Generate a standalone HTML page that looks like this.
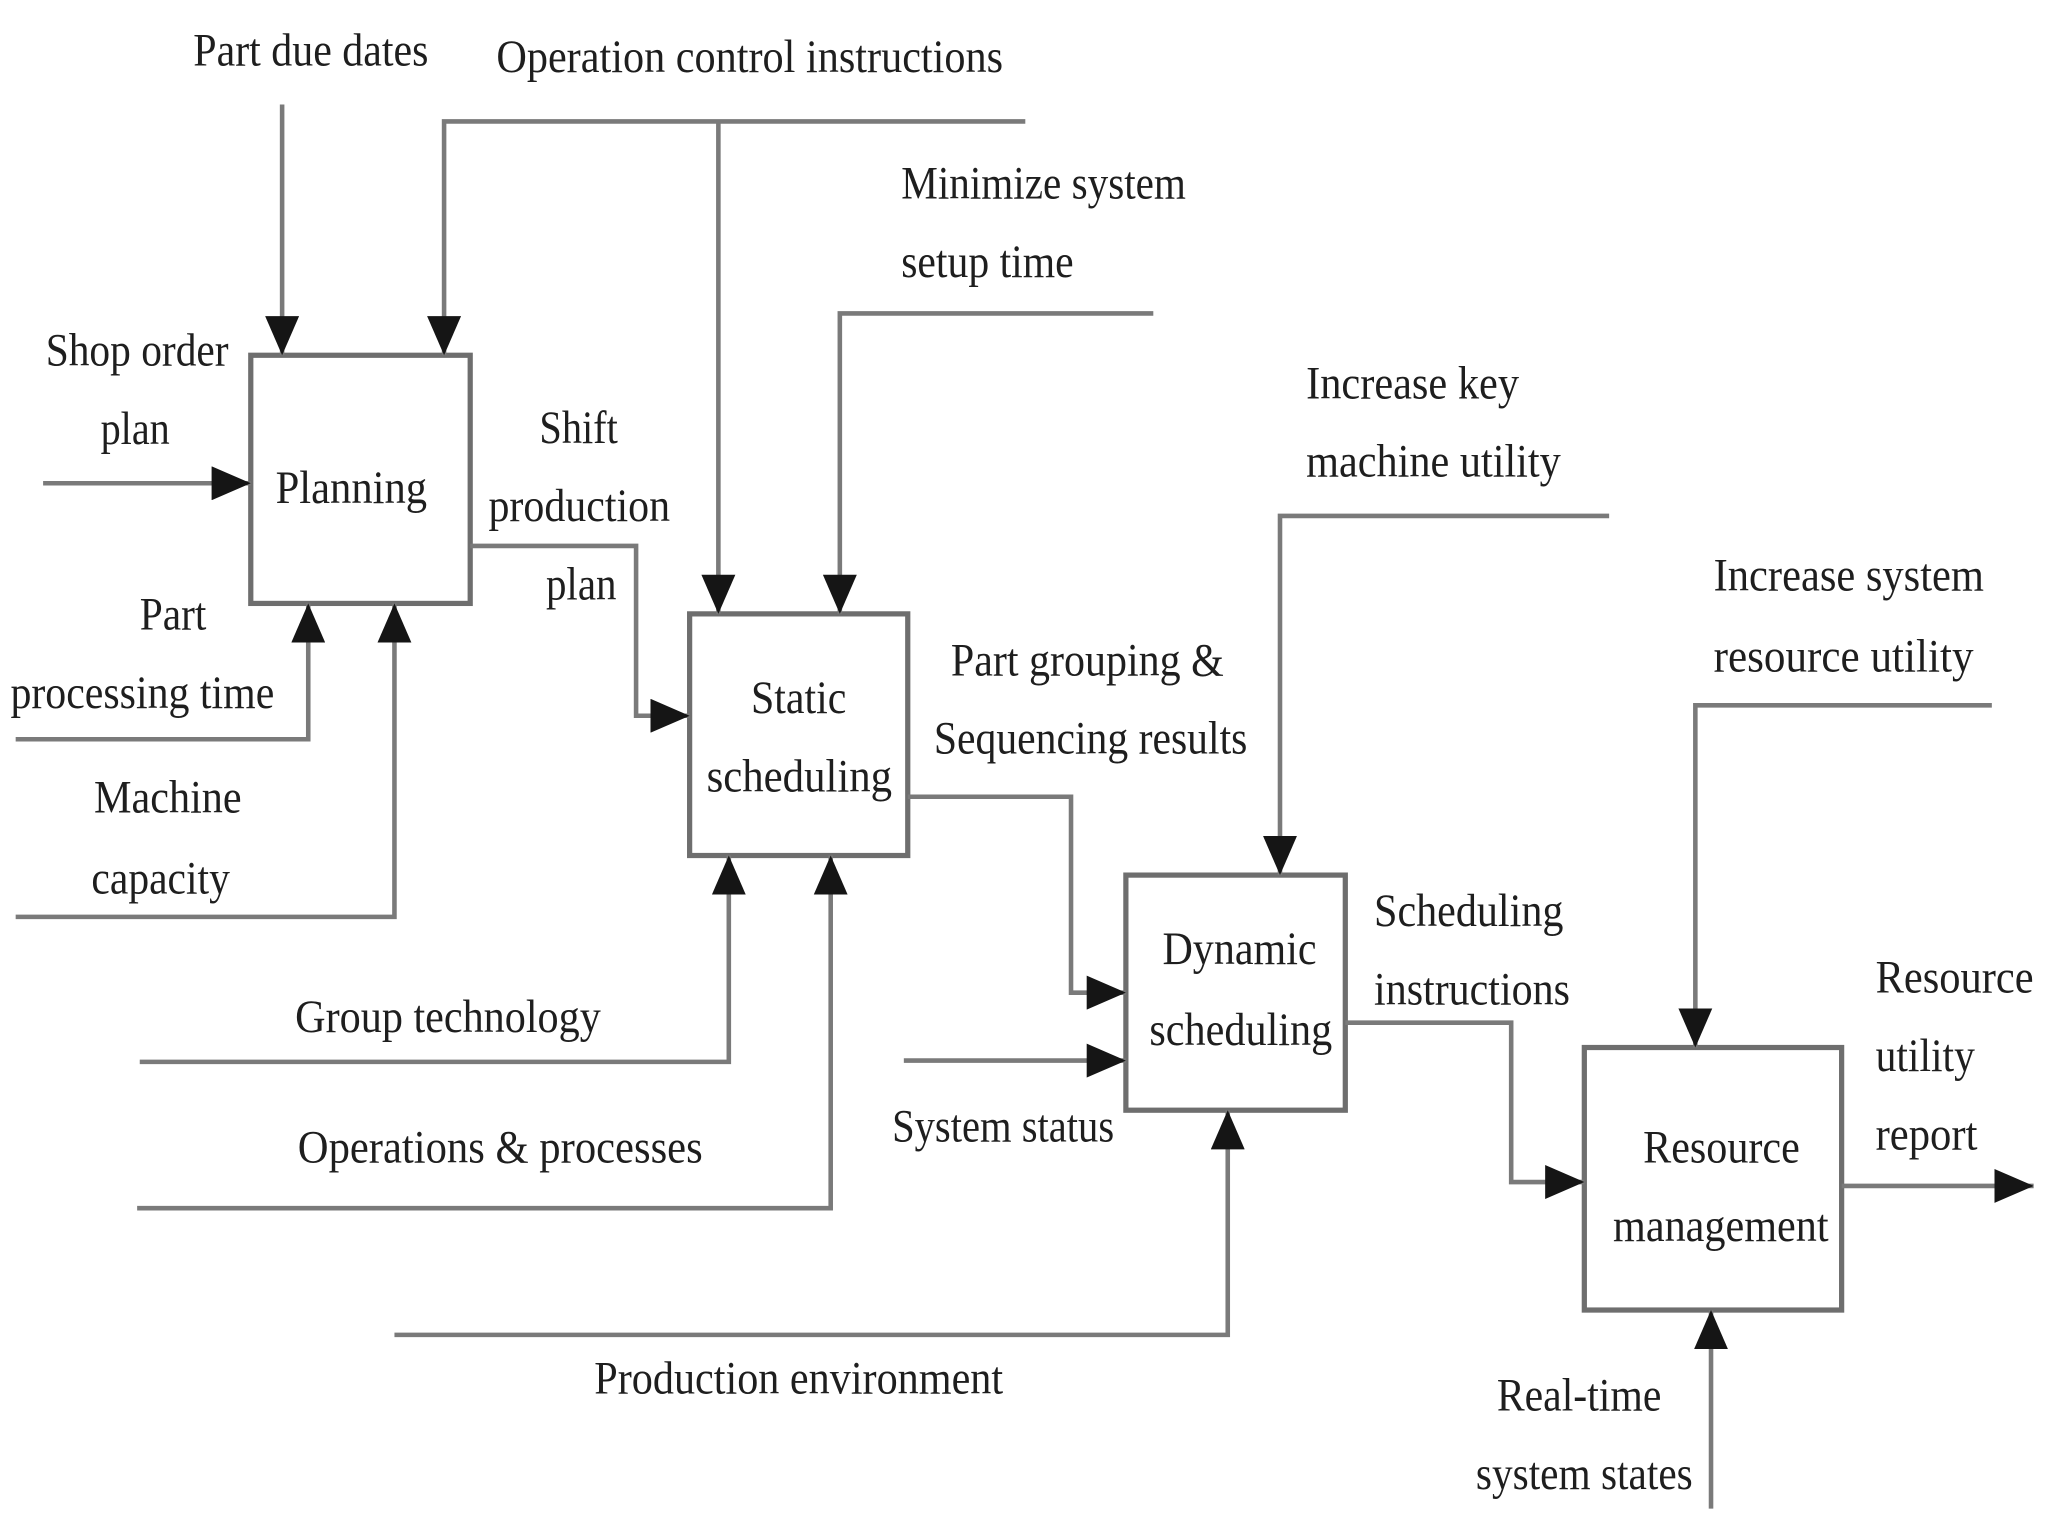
<!DOCTYPE html>
<html><head><meta charset="utf-8"><style>html,body{margin:0;padding:0;background:#fff}svg{display:block}</style></head>
<body>
<svg width="2048" height="1536" viewBox="0 0 1568 1176" xmlns="http://www.w3.org/2000/svg">
<defs>
<marker id="a" markerWidth="30" markerHeight="26" refX="30" refY="13" orient="auto" markerUnits="userSpaceOnUse"><path d="M0,0 L30,13 L0,26z" fill="#151515"/></marker>
</defs>
<rect width="1568" height="1176" fill="#fff"/>
<g fill="none" stroke="#6e6e6e" stroke-width="4">
<rect x="192" y="272" width="168" height="190"/>
<rect x="528" y="470" width="167" height="185"/>
<rect x="862" y="670" width="168" height="180"/>
<rect x="1213" y="802" width="197" height="201"/>
</g>
<g fill="none" stroke="#7a7a7a" stroke-width="3.5" marker-end="url(#a)">
<path d="M216,80 V272"/>
<path d="M785,93 H340 V272"/>
<path d="M550,93 V470"/>
<path d="M883,240 H643 V470"/>
<path d="M33,370 H192"/>
<path d="M12,566 H236 V462"/>
<path d="M12,702 H302 V462"/>
<path d="M360,418 H487 V548 H528"/>
<path d="M107,813 H558 V655"/>
<path d="M105,925 H636 V655"/>
<path d="M695,610 H820 V760 H862"/>
<path d="M692,812 H862"/>
<path d="M1232,395 H980 V670"/>
<path d="M302,1022 H940 V850"/>
<path d="M1030,783 H1157 V905 H1213"/>
<path d="M1525,540 H1298 V802"/>
<path d="M1410,908 H1557"/>
<path d="M1310,1155 V1003"/>
</g>
<g font-family="Liberation Serif, serif" font-size="36" fill="#1e1e1e" lengthAdjust="spacingAndGlyphs">
<text x="148" y="50" textLength="180" lengthAdjust="spacingAndGlyphs">Part due dates</text>
<text x="380" y="55" textLength="388" lengthAdjust="spacingAndGlyphs">Operation control instructions</text>
<text x="690" y="152" textLength="218" lengthAdjust="spacingAndGlyphs">Minimize system</text>
<text x="690" y="212" textLength="132" lengthAdjust="spacingAndGlyphs">setup time</text>
<text x="35" y="280" textLength="140" lengthAdjust="spacingAndGlyphs">Shop order</text>
<text x="77" y="340" textLength="53" lengthAdjust="spacingAndGlyphs">plan</text>
<text x="211" y="385" textLength="116" lengthAdjust="spacingAndGlyphs">Planning</text>
<text x="413" y="339" textLength="60" lengthAdjust="spacingAndGlyphs">Shift</text>
<text x="374" y="399" textLength="139" lengthAdjust="spacingAndGlyphs">production</text>
<text x="418" y="459" textLength="54" lengthAdjust="spacingAndGlyphs">plan</text>
<text x="107" y="482" textLength="51" lengthAdjust="spacingAndGlyphs">Part</text>
<text x="8" y="542" textLength="202" lengthAdjust="spacingAndGlyphs">processing time</text>
<text x="72" y="622" textLength="113" lengthAdjust="spacingAndGlyphs">Machine</text>
<text x="70" y="684" textLength="106" lengthAdjust="spacingAndGlyphs">capacity</text>
<text x="575" y="546" textLength="73" lengthAdjust="spacingAndGlyphs">Static</text>
<text x="541" y="606" textLength="142" lengthAdjust="spacingAndGlyphs">scheduling</text>
<text x="1000" y="305" textLength="163" lengthAdjust="spacingAndGlyphs">Increase key</text>
<text x="1000" y="365" textLength="195" lengthAdjust="spacingAndGlyphs">machine utility</text>
<text x="728" y="517" textLength="209" lengthAdjust="spacingAndGlyphs">Part grouping &amp;</text>
<text x="715" y="577" textLength="240" lengthAdjust="spacingAndGlyphs">Sequencing results</text>
<text x="226" y="790" textLength="234" lengthAdjust="spacingAndGlyphs">Group technology</text>
<text x="228" y="890" textLength="310" lengthAdjust="spacingAndGlyphs">Operations &amp; processes</text>
<text x="890" y="738" textLength="118" lengthAdjust="spacingAndGlyphs">Dynamic</text>
<text x="880" y="800" textLength="140" lengthAdjust="spacingAndGlyphs">scheduling</text>
<text x="683" y="874" textLength="170" lengthAdjust="spacingAndGlyphs">System status</text>
<text x="1052" y="709" textLength="145" lengthAdjust="spacingAndGlyphs">Scheduling</text>
<text x="1052" y="769" textLength="150" lengthAdjust="spacingAndGlyphs">instructions</text>
<text x="1312" y="452" textLength="207" lengthAdjust="spacingAndGlyphs">Increase system</text>
<text x="1312" y="514" textLength="199" lengthAdjust="spacingAndGlyphs">resource utility</text>
<text x="1436" y="760" textLength="121" lengthAdjust="spacingAndGlyphs">Resource</text>
<text x="1436" y="820" textLength="76" lengthAdjust="spacingAndGlyphs">utility</text>
<text x="1436" y="880" textLength="78" lengthAdjust="spacingAndGlyphs">report</text>
<text x="1258" y="890" textLength="120" lengthAdjust="spacingAndGlyphs">Resource</text>
<text x="1235" y="950" textLength="165" lengthAdjust="spacingAndGlyphs">management</text>
<text x="455" y="1067" textLength="313" lengthAdjust="spacingAndGlyphs">Production environment</text>
<text x="1146" y="1080" textLength="126" lengthAdjust="spacingAndGlyphs">Real-time</text>
<text x="1130" y="1140" textLength="166" lengthAdjust="spacingAndGlyphs">system states</text>
</g>
</svg>
</body></html>
